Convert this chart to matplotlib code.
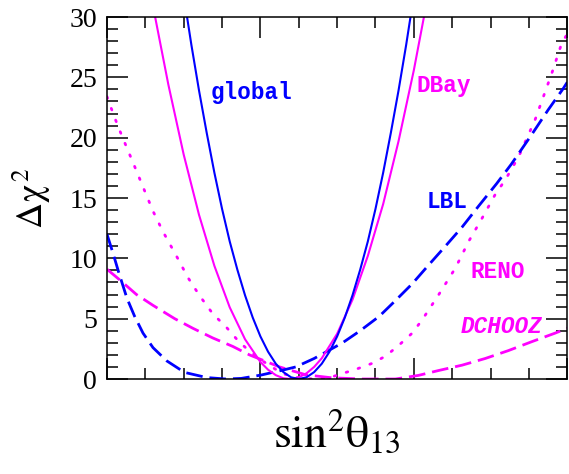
import matplotlib
matplotlib.use('Agg')
import matplotlib.pyplot as plt
from matplotlib.ticker import MultipleLocator, NullFormatter

plt.rcParams['mathtext.fontset'] = 'stix'
plt.rcParams['lines.scale_dashes'] = False

# global fit (blue solid)
global_x = [0.010, 0.011, 0.012, 0.013, 0.014, 0.015, 0.016, 0.017, 0.018, 0.019, 0.020,
            0.021, 0.022, 0.023, 0.024, 0.025, 0.026, 0.027, 0.028, 0.029, 0.030, 0.031,
            0.032, 0.033, 0.034, 0.035, 0.036, 0.037, 0.038, 0.039, 0.040]
global_y = [31.8, 27.7, 23.9, 20.4, 17.1, 14.1, 11.4, 9.05, 6.93, 5.09, 3.53,
            2.26, 1.27, 0.57, 0.14, 0.0, 0.14, 0.57, 1.27, 2.26, 3.53, 5.09,
            6.93, 9.05, 11.4, 14.1, 17.1, 20.4, 23.9, 27.7, 31.8]

# Daya Bay (magenta solid)
dbay_x = [0.005, 0.006, 0.008, 0.010, 0.012, 0.014, 0.016, 0.018, 0.020, 0.021, 0.022, 0.023,
          0.024, 0.025, 0.026, 0.027, 0.028, 0.030, 0.032, 0.034, 0.036, 0.038, 0.040, 0.042]
dbay_y = [34.5, 30.9, 24.4, 18.6, 13.6, 9.38, 5.94, 3.29, 1.41, 0.77, 0.32, 0.06,
          0.0, 0.14, 0.47, 1.0, 1.72, 3.75, 6.57, 10.2, 14.5, 19.7, 25.6, 32.3]

# long baseline (blue dashed)
lbl_x = [0.0, 0.0008, 0.0015, 0.0026, 0.0036, 0.0047, 0.0060, 0.0078, 0.0101, 0.0130, 0.0155,
         0.0175, 0.0201, 0.0230, 0.0246, 0.0270, 0.0290, 0.0307, 0.0330, 0.0355, 0.0376, 0.0398,
         0.0420, 0.0441, 0.0463, 0.0484, 0.0508, 0.0527, 0.0553, 0.0575, 0.0595, 0.0600]
lbl_y = [12.0, 10.4, 8.9, 6.7, 5.2, 3.8, 2.6, 1.5, 0.55, 0.12, 0.0,
         0.05, 0.33, 0.75, 1.0, 1.7, 2.4, 3.0, 4.0, 5.2, 6.5, 7.9,
         9.5, 11.0, 12.6, 14.3, 16.2, 17.8, 20.2, 22.3, 24.1, 24.6]

# RENO (magenta dotted)
reno_x = [0.0, 0.00104, 0.00191, 0.00342, 0.00471, 0.00601, 0.00731, 0.00905, 0.01056, 0.01208,
          0.0138, 0.01555, 0.01705, 0.01857, 0.02074, 0.02286, 0.02506, 0.02701, 0.02896, 0.03065,
          0.03243, 0.03458, 0.03632, 0.03805, 0.03978, 0.04108, 0.04325, 0.04542, 0.04714, 0.04887,
          0.05061, 0.05191, 0.05364, 0.05581, 0.05796, 0.05926, 0.0600]
reno_y = [23.4, 21.6, 20.2, 17.9, 15.9, 13.9, 12.2, 10.2, 8.4, 6.9,
          5.4, 4.3, 3.2, 2.3, 1.3, 0.45, 0.08, 0.0, 0.1, 0.45,
          0.8, 1.3, 1.9, 2.8, 3.8, 4.9, 7.0, 9.2, 11.4, 13.3,
          15.3, 16.5, 18.4, 21.5, 25.3, 27.8, 28.6]

# Double Chooz (magenta dashed)
dchooz_x = [0.0, 0.00169, 0.00385, 0.00601, 0.00883, 0.01121, 0.0138, 0.0164, 0.01857, 0.0225,
            0.0259, 0.0293, 0.0332, 0.0376, 0.0406, 0.0432, 0.0463, 0.0493, 0.0523, 0.0554,
            0.0584, 0.0600]
dchooz_y = [9.1, 8.2, 7.0, 6.1, 5.0, 4.2, 3.4, 2.7, 2.0, 1.0,
            0.35, 0.1, 0.0, 0.0, 0.3, 0.7, 1.15, 1.7, 2.35, 3.1,
            3.8, 4.2]

blue = '#0000ff'
mag = '#ff00ff'

fig = plt.figure(figsize=(5.69, 4.74), dpi=100)
ax = fig.add_axes([0.188, 0.2004, 0.809, 0.7637])

ax.plot(dchooz_x, dchooz_y, color=mag, lw=2, dashes=(12, 5))
ax.plot(reno_x, reno_y, color=mag, lw=2, dashes=(1.2, 7.8), dash_capstyle='round')
ax.plot(lbl_x, lbl_y, color=blue, lw=2, dashes=(12, 5))
ax.plot(dbay_x, dbay_y, color=mag, lw=1.5)
ax.plot(global_x, global_y, color=blue, lw=1.5)

txt = dict(family='Liberation Mono', weight='bold', fontsize=16.3)
ax.text(0.01351, 23.2, 'global', color=blue, **txt)
ax.text(0.04039, 23.8, 'DBay', color=mag, **txt)
ax.text(0.04169, 14.14, 'LBL', color=blue, **txt)
ax.text(0.04740, 8.40, 'RENO', color=mag, **txt)
ax.text(0.04610, 3.83, 'DCHOOZ', color=mag, style='italic', **txt)

ax.set_xlim(0, 0.06)
ax.set_ylim(0, 30)
ax.xaxis.set_major_locator(MultipleLocator(0.02))
ax.xaxis.set_minor_locator(MultipleLocator(0.005))
ax.xaxis.set_major_formatter(NullFormatter())
ax.yaxis.set_major_locator(MultipleLocator(5))
ax.yaxis.set_minor_locator(MultipleLocator(1))
ax.tick_params(which='both', direction='in', top=True, right=True, width=1.1)
ax.tick_params(which='major', length=15)
ax.tick_params(which='minor', length=8)
ax.tick_params(axis='y', labelsize=20, pad=7)
for lab in ax.get_yticklabels():
    lab.set_family('Liberation Serif')
for s in ax.spines.values():
    s.set_linewidth(1.1)

ax.set_ylabel(r'$\Delta\mathrm{\chi}^{\,2}$', fontsize=26, labelpad=12)
ax.set_xlabel(r'$\mathrm{sin}^{2}\mathrm{\theta}_{13}$', fontsize=33, labelpad=18)

fig.savefig('out.png', dpi=100)
